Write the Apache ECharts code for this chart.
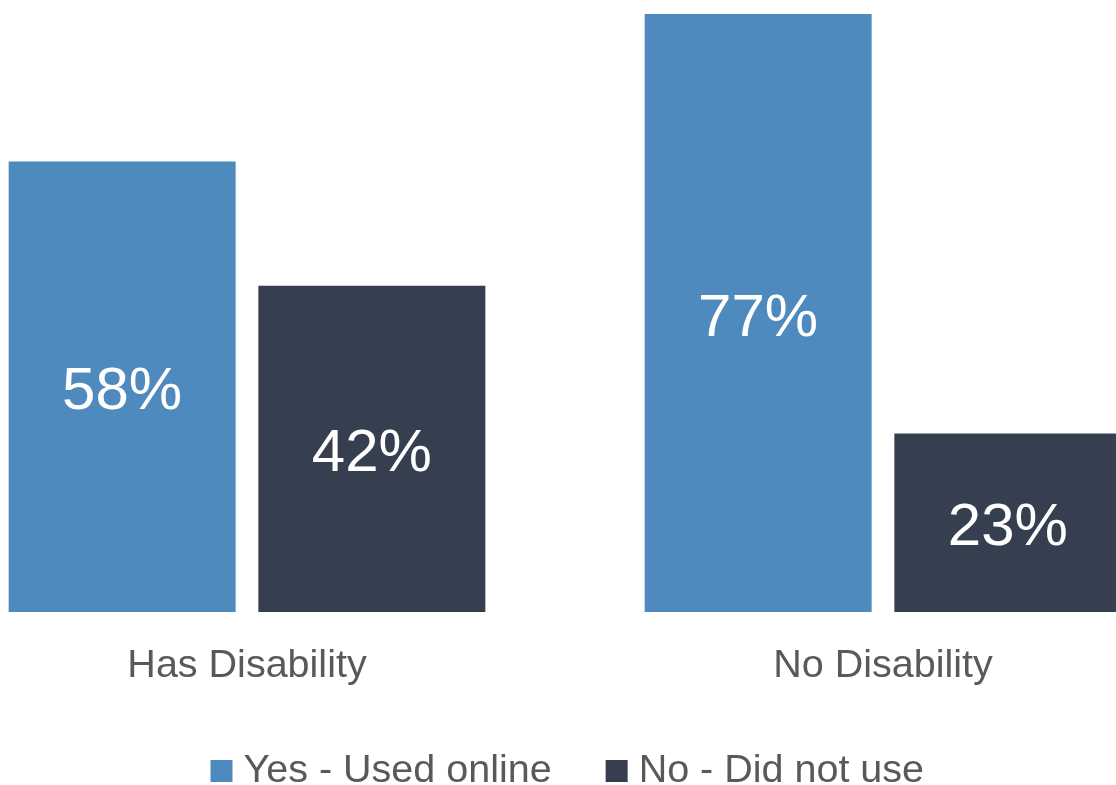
<!DOCTYPE html>
<html>
<head>
<meta charset="utf-8">
<script src="https://cdn.jsdelivr.net/npm/echarts@6/dist/echarts.min.js"></script>
<style>
html,body{margin:0;padding:0;background:#fff;overflow:hidden;width:1116px;height:785px;}
#c{position:absolute;left:-71.5px;top:0;width:1272px;height:785px;}
</style>
</head>
<body>
<div id="c"></div>
<script>
var categories = ['Has Disability', 'No Disability'];
var seriesNames = ['Yes - Used online', 'No - Did not use'];
var yesValues = [58, 77];
var noValues = [42, 23];

var chart = echarts.init(document.getElementById('c'), null, {renderer: 'canvas'});
var FONT = '"Liberation Sans", Arial, sans-serif';
var labelStyle = {
  show: true,
  position: 'inside',
  offset: [0, 6],
  color: '#ffffff',
  fontSize: 60,
  fontFamily: FONT,
  formatter: '{c}%'
};
chart.setOption({
  animation: false,
  backgroundColor: '#ffffff',
  grid: {left: 0, right: 0, top: 14, bottom: 173, containLabel: false},
  xAxis: {
    type: 'category',
    data: categories,
    axisLine: {show: false},
    axisTick: {show: false},
    axisLabel: {color: '#595959', fontSize: 39.5, fontFamily: FONT, margin: 34}
  },
  yAxis: {
    type: 'value',
    min: 0,
    max: 77,
    show: false,
    splitLine: {show: false}
  },
  legend: {
    data: seriesNames,
    left: 276.5,
    top: 746,
    icon: 'rect',
    itemWidth: 22,
    itemHeight: 22,
    itemGap: 54,
    textStyle: {color: '#595959', fontSize: 39.5, fontFamily: FONT, padding: [0, 0, 0, 6]}
  },
  series: [
    {
      name: seriesNames[0],
      type: 'bar',
      data: yesValues,
      barWidth: 227,
      barGap: '10%',
      itemStyle: {color: '#4F8ABE'},
      label: labelStyle
    },
    {
      name: seriesNames[1],
      type: 'bar',
      data: noValues,
      barWidth: 227,
      barGap: '10%',
      itemStyle: {color: '#353F50'},
      label: labelStyle
    }
  ]
});
</script>
</body>
</html>
